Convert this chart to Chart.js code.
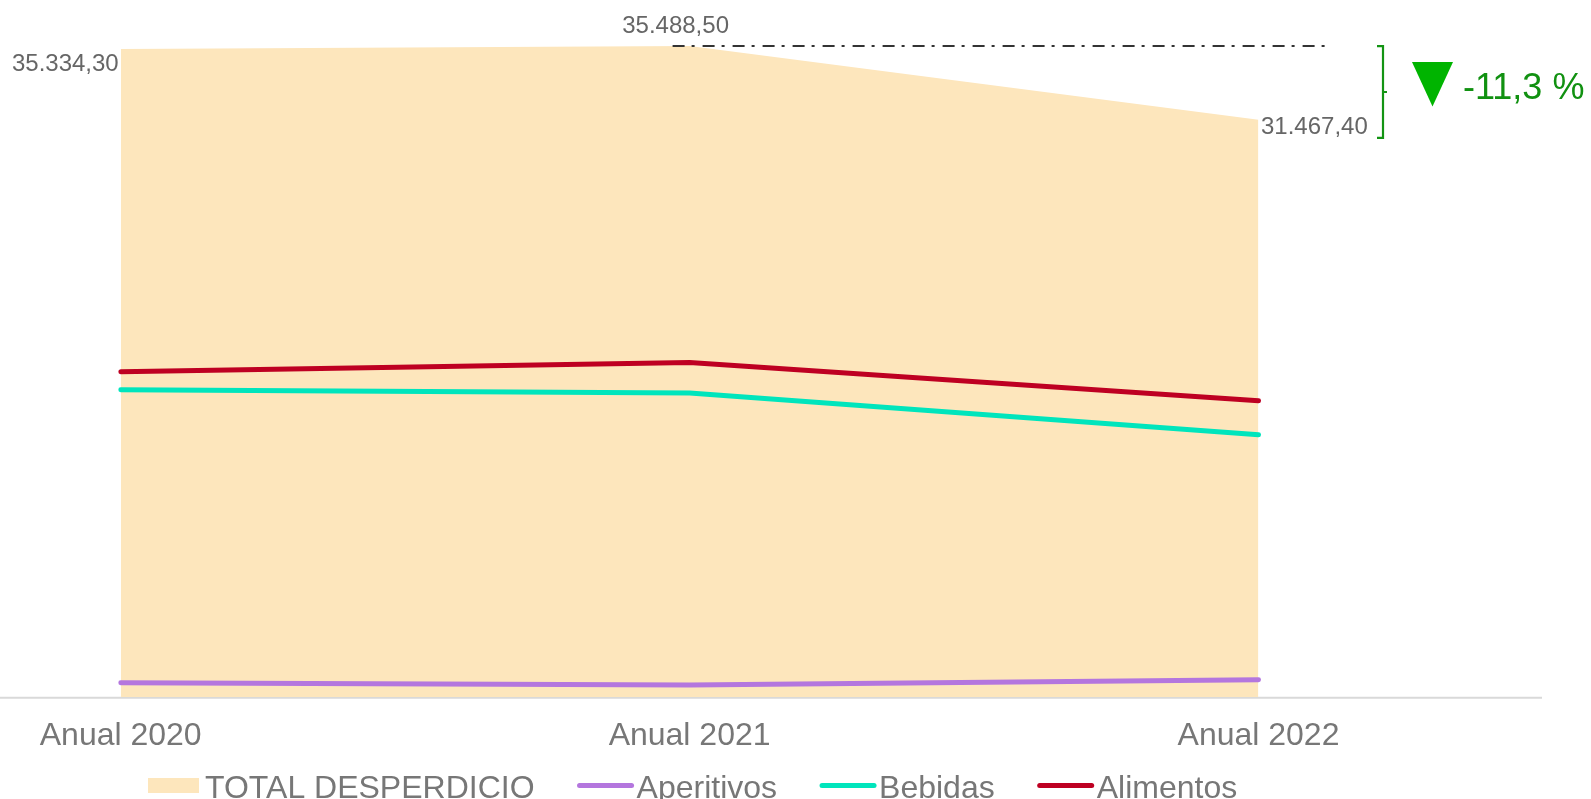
<!DOCTYPE html>
<html>
<head>
<meta charset="utf-8">
<script src="https://cdn.jsdelivr.net/npm/chart.js@4"></script>
<style>
    html, body { margin: 0; padding: 0; background: #fff; }
    #wrap { width: 1591px; height: 799px; }
</style>
</head>
<body>
<div id="wrap"><canvas id="wasteChart" width="1591" height="799"></canvas></div>
<script>
// datos
const categories = ['Anual 2020', 'Anual 2021', 'Anual 2022'];
const totalDesperdicio = [35334.30, 35488.50, 31467.40];
const aperitivos = [796, 671, 960];
const bebidas = [16757, 16577, 14303];
const alimentos = [17738, 18245, 16157];
const yMax = 38000;

const FONT = '"Liberation Sans", Arial, sans-serif';

function fmtEs(v) {
    const parts = v.toFixed(2).split('.');
    const ent = parts[0].replace(/\B(?=(\d{3})+(?!\d))/g, '.');
    return ent + ',' + parts[1];
}

// etiquetas de valor, linea de maximo, llave y variacion
const annotationsPlugin = {
    id: 'annotations',
    beforeDatasetsDraw(chart) {
        const ctx = chart.ctx;
        const area = chart.chartArea;
        ctx.save();
        ctx.strokeStyle = '#d9d9d9';
        ctx.lineWidth = 2;
        ctx.beginPath();
        ctx.moveTo(0, area.bottom + 0.5);
        ctx.lineTo(1542, area.bottom + 0.5);
        ctx.stroke();
        ctx.restore();
    },
    afterDatasetsDraw(chart) {
        const ctx = chart.ctx;
        const x = chart.scales.x;
        const y = chart.scales.y;
        const px = i => x.getPixelForValue(i);
        const py = v => y.getPixelForValue(v);

        ctx.save();
        // etiquetas del total
        ctx.font = '24px ' + FONT;
        ctx.fillStyle = '#666666';
        ctx.textBaseline = 'alphabetic';
        ctx.textAlign = 'right';
        ctx.fillText(fmtEs(totalDesperdicio[0]), px(0) - 2, py(totalDesperdicio[0]) + 22.5);
        ctx.textAlign = 'center';
        ctx.fillText(fmtEs(totalDesperdicio[1]), px(1) - 14, py(totalDesperdicio[1]) - 13.5);
        ctx.textAlign = 'left';
        ctx.fillText(fmtEs(totalDesperdicio[2]), px(2) + 2.5, py(totalDesperdicio[2]) + 14);

        // linea del maximo
        const maxVal = Math.max(...totalDesperdicio);
        const iMax = totalDesperdicio.indexOf(maxVal);
        const yTop = py(maxVal);
        ctx.strokeStyle = '#333333';
        ctx.lineWidth = 2;
        ctx.setLineDash([12, 7, 3, 8]);
        ctx.beginPath();
        ctx.moveTo(px(iMax) - 17, yTop);
        ctx.lineTo(px(2) + 72, yTop);
        ctx.stroke();
        ctx.setLineDash([]);

        // llave verde
        const last = totalDesperdicio[totalDesperdicio.length - 1];
        const yBot = py(last) + 18;
        const yMid = (yTop + yBot) / 2;
        const bx = px(2) + 124.5;
        ctx.strokeStyle = '#139413';
        ctx.lineWidth = 2.2;
        ctx.beginPath();
        ctx.moveTo(bx - 6, yTop);
        ctx.lineTo(bx, yTop);
        ctx.lineTo(bx, yBot);
        ctx.lineTo(bx - 6, yBot);
        ctx.moveTo(bx, yMid);
        ctx.lineTo(bx + 4, yMid);
        ctx.stroke();

        // triangulo y porcentaje
        const tx = bx + 29;
        ctx.fillStyle = '#00b400';
        ctx.beginPath();
        ctx.moveTo(tx, yTop + 16);
        ctx.lineTo(tx + 41, yTop + 16);
        ctx.lineTo(tx + 20.5, yTop + 60.5);
        ctx.closePath();
        ctx.fill();

        const pct = (last - maxVal) / maxVal * 100;
        ctx.fillStyle = '#119111';
        ctx.font = '36px ' + FONT;
        ctx.textAlign = 'left';
        ctx.fillText(pct.toFixed(1).replace('.', ',') + ' %', tx + 51, yTop + 52.5);
        ctx.restore();
    },
    afterDraw(chart) {
        // leyenda
        const ctx = chart.ctx;
        const items = chart.data.datasets;
        const legendOrder = ['TOTAL DESPERDICIO', 'Aperitivos', 'Bebidas', 'Alimentos'];
        ctx.save();
        ctx.font = '32px ' + FONT;
        ctx.textBaseline = 'alphabetic';
        ctx.textAlign = 'left';
        let cx = 148;
        const cy = 785.5;
        legendOrder.forEach(name => {
            const ds = items.find(d => d.label === name);
            if (ds.fill) {
                ctx.fillStyle = ds.backgroundColor;
                ctx.fillRect(cx, cy - 7.5, 51, 15);
            } else {
                ctx.strokeStyle = ds.borderColor;
                ctx.lineWidth = 5;
                ctx.lineCap = 'round';
                ctx.beginPath();
                ctx.moveTo(cx + 2, cy);
                ctx.lineTo(cx + 54, cy);
                ctx.stroke();
            }
            const tx = ds.fill ? cx + 57 : cx + 59;
            ctx.fillStyle = '#777777';
            ctx.fillText(name, tx, 797.5);
            cx = tx + ctx.measureText(name).width + 43;
        });
        ctx.restore();
    }
};

const lineDs = (label, data, color) => ({
    label: label,
    data: data,
    borderColor: color,
    backgroundColor: color,
    borderWidth: 5,
    borderCapStyle: 'round',
    borderJoinStyle: 'round',
    pointRadius: 0,
    tension: 0,
    fill: false,
    order: 1
});

new Chart(document.getElementById('wasteChart'), {
    type: 'line',
    data: {
        labels: categories,
        datasets: [
            {
                label: 'TOTAL DESPERDICIO',
                data: totalDesperdicio,
                borderWidth: 0,
                borderColor: 'rgba(0,0,0,0)',
                backgroundColor: '#FDE6BC',
                pointRadius: 0,
                tension: 0,
                fill: 'origin',
                order: 10
            },
            lineDs('Aperitivos', aperitivos, '#B476DE'),
            lineDs('Bebidas', bebidas, '#00E5BC'),
            lineDs('Alimentos', alimentos, '#BE0022')
        ]
    },
    options: {
        responsive: false,
        animation: false,
        layout: {
            padding: { left: 120.7, right: 332.5, top: 0, bottom: 0 }
        },
        plugins: {
            legend: { display: false },
            tooltip: { enabled: false }
        },
        scales: {
            x: {
                offset: false,
                grid: { display: false, drawTicks: false },
                border: { display: false },
                ticks: {
                    color: '#777777',
                    font: { family: FONT, size: 32 },
                    padding: 20,
                    maxRotation: 0,
                    autoSkip: false
                },
                afterFit(scale) { scale.height = 101.7; }
            },
            y: {
                display: false,
                min: 0,
                max: yMax
            }
        }
    },
    plugins: [annotationsPlugin]
});
</script>
</body>
</html>
